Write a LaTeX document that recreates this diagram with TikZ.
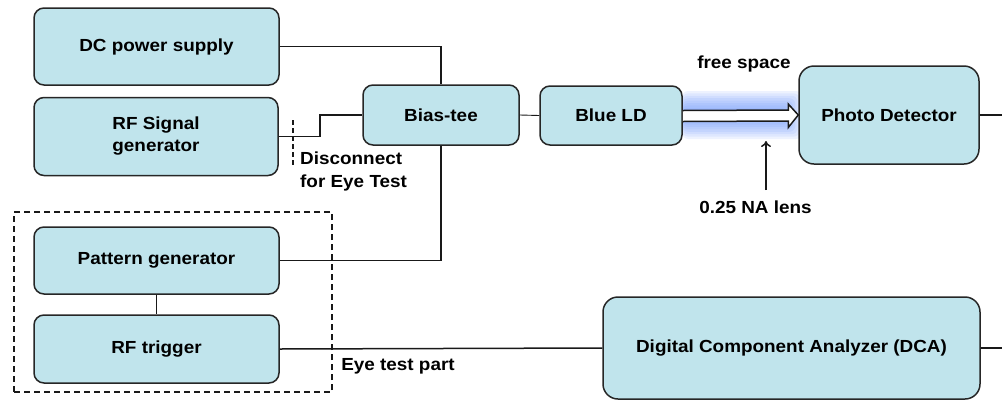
\documentclass[tikz,border=0pt]{standalone}
\usepackage{fontspec}
\setmainfont{Liberation Sans}[FakeStretch=1.08]
\usetikzlibrary{arrows.meta,calc}
\definecolor{boxblue}{RGB}{192,228,236}
\definecolor{glowblue}{RGB}{95,140,250}
\tikzstyle{ibox}=[draw=black!85,fill=boxblue,line width=1.5pt,rounded corners=10pt,inner sep=0pt,align=center,font=\fontsize{17.5}{22}\selectfont\bfseries]
\tikzstyle{lbl}=[inner sep=0pt,align=left,font=\fontsize{17.5}{23}\selectfont\bfseries]
\tikzstyle{wire}=[line width=1.5pt,black!90]
\tikzstyle{twire}=[line width=0.9pt,black!90]

\begin{document}
\begin{tikzpicture}[x=1pt,y=-1pt]
\useasboundingbox (0,0) rectangle (1002,400);
% glow of the free space beam
\foreach \g in {1,...,10}
  \fill[glowblue,opacity=0.11,rounded corners=6pt] (682,115-2.4*\g) rectangle (780+2.2*\g,115+2.4*\g);
\node[ibox,minimum width=245,minimum height=77] (DC) at (156.5,46.5) {DC power supply};
\node[ibox,minimum width=244,minimum height=78] (RFsig) at (156,136.5) {RF Signal\\generator};
\node[ibox,minimum width=156,minimum height=60] (bias) at (441,115) {Bias-tee};
\node[ibox,minimum width=142,minimum height=59] (LD) at (611,115.5) {Blue LD};
\node[ibox,minimum width=180,minimum height=98,rounded corners=15pt] (PD) at (889,115) {Photo Detector};
\node[ibox,minimum width=245,minimum height=67] (pat) at (156.5,260.5) {Pattern generator};
\node[ibox,minimum width=245,minimum height=68] (trig) at (156.5,349) {RF trigger};
\node[ibox,minimum width=377,minimum height=102,rounded corners=15pt] (DCA) at (791.5,348) {Digital Component Analyzer (DCA)};
\node[draw=black!90,line width=1.5pt,dash pattern=on 6pt off 4pt,minimum width=318,minimum height=180] (grp) at (173,302) {};
\node[lbl] (free) at (744,64) {free space};
\node[lbl] (lens) at (755.5,207) {0.25 NA lens};
\node[lbl,anchor=west] (disc) at (300,171) {Disconnect\\for Eye Test};
\node[lbl] (eye) at (398,366) {Eye test part};
\coordinate (jog) at (320,136.5);
\coordinate (cuttop) at (293,120);
\coordinate (cutbot) at (293,167);
\coordinate (lensfoot) at (766,190);
\coordinate (lenstip) at (766,141);
\coordinate (PDout) at (1002,115);
\coordinate (DCAout) at (1002,348);
\draw[wire](DC.east) -| (bias.north);
\draw[wire](RFsig.east) -- (jog) |- (bias.west);
\draw[wire,dash pattern=on 5pt off 3pt](cuttop) -- (cutbot);
\draw[wire](pat.east) -| (bias.south);
\draw[twire](bias.east) -- (LD.west);
\draw[twire](pat.south) -- (trig.north);
\draw[wire](trig.east) -- (DCA.west);
\draw[wire](PD.east) -- (PDout);
\draw[wire](DCA.east) -- (DCAout);
% hollow beam arrow
\draw[wire,fill=white,line join=miter]($(LD.east)+(0,-5)$) -- ($(PD.west)+(-10,-5)$) -- ($(PD.west)+(-10,-11)$)
  -- (PD.west) -- ($(PD.west)+(-10,12.5)$) -- ($(PD.west)+(-10,6)$) -- ($(LD.east)+(0,6)$);
\draw[wire,-{To[length=6pt,width=10pt]}](lensfoot) -- (lenstip);
\end{tikzpicture}
\end{document}
